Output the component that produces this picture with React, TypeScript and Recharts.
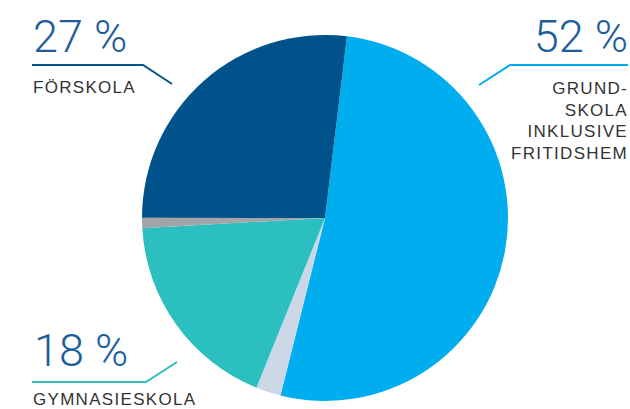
import { PieChart, Pie, Cell } from "recharts";

const categories = ["Grundskola inklusive fritidshem", "Övrigt", "Gymnasieskola", "Annat", "Förskola"];
const shares = [52, 2.2, 18, 0.9, 26.9];
const colors = ["#00AEEF", "#CCD7E7", "#2BBFC0", "#A2A4A8", "#00538A"];

const data = categories.map((name, i) => ({ name, value: shares[i] }));

const PCT = "#1D5E9A";
const TEXT = "#333333";
const FONT = "'Liberation Sans', Arial, sans-serif";
const LIGHT = "Roboto, 'Liberation Sans', sans-serif";

// start a little right of twelve o'clock and go clockwise
const START = 83.1;

function Annotations() {
  const cat = { fontFamily: FONT, fontSize: 17, letterSpacing: 1.3, fill: TEXT };
  const pct = { fontFamily: LIGHT, fontWeight: 300, fontSize: 45, fill: PCT };
  return (
    <svg width={630} height={409} style={{ position: "absolute", left: 0, top: 0, pointerEvents: "none" }}>
      {/* förskola */}
      <text x={33} y={52} {...pct}>27 %</text>
      <polyline points="32,65 143,65 172,84" fill="none" stroke="#00538A" strokeWidth={2} />
      <text x={33} y={93} {...cat}>FÖRSKOLA</text>

      {/* grundskola */}
      <text x={628} y={52} textAnchor="end" {...pct}>52 %</text>
      <polyline points="628,65 510,65 479,85" fill="none" stroke="#00AEEF" strokeWidth={2} />
      {["GRUND-", "SKOLA", "INKLUSIVE", "FRITIDSHEM"].map((t, i) => (
        <text key={t} x={628} y={94 + i * 21.6} textAnchor="end" {...cat}>
          {t}
        </text>
      ))}

      {/* gymnasieskola */}
      <text x={34} y={366} {...pct}>18 %</text>
      <polyline points="32,382 146,382 177,362" fill="none" stroke="#2BBFC0" strokeWidth={2} />
      <text x={33} y={405} {...cat}>GYMNASIESKOLA</text>
    </svg>
  );
}

export default function App() {
  return (
    <div style={{ position: "absolute", left: 0, top: 0, width: 630, height: 409, background: "#fff" }}>
      <PieChart width={630} height={409} margin={{ top: 0, right: 0, bottom: 0, left: 0 }}>
        <Pie
          data={data}
          dataKey="value"
          nameKey="name"
          cx={325}
          cy={218}
          outerRadius={183}
          startAngle={START}
          endAngle={START - 360}
          stroke="none"
          isAnimationActive={false}
        >
          {data.map((d, i) => (
            <Cell key={d.name} fill={colors[i]} />
          ))}
        </Pie>
      </PieChart>
      <Annotations />
    </div>
  );
}
